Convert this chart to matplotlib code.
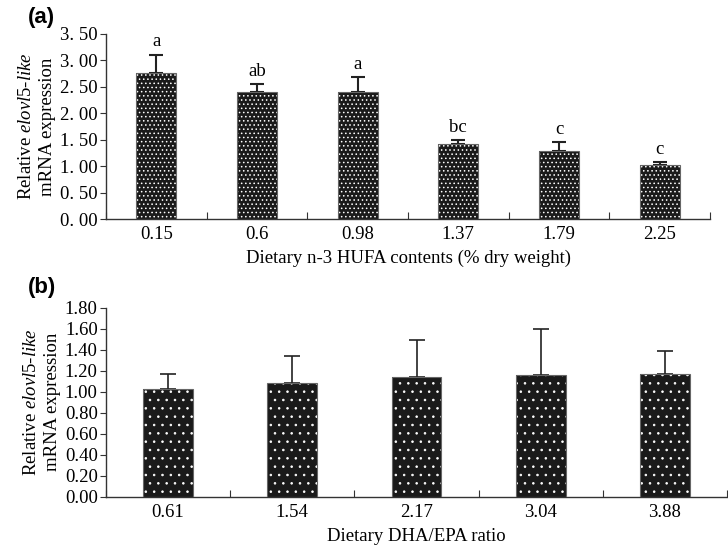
import matplotlib
matplotlib.use("Agg")
import matplotlib.pyplot as plt
import numpy as np

plt.rcParams['font.family'] = ['Liberation Serif', 'DejaVu Serif']
plt.rcParams['mathtext.fontset'] = 'custom'
plt.rcParams['mathtext.rm'] = 'Liberation Serif'
plt.rcParams['mathtext.it'] = 'Liberation Serif:italic'
plt.rcParams['hatch.color'] = 'white'
plt.rcParams['hatch.linewidth'] = 0.6

# ---- data panel (a)
cats_a = ["0.15", "0.6", "0.98", "1.37", "1.79", "2.25"]
vals_a = [2.77, 2.40, 2.40, 1.42, 1.29, 1.03]
err_a = [0.34, 0.16, 0.28, 0.07, 0.17, 0.05]
letters_a = ["a", "ab", "a", "bc", "c", "c"]
yticks_a = [0.0, 0.5, 1.0, 1.5, 2.0, 2.5, 3.0, 3.5]
yticklabels_a = ["0. 00", "0. 50", "1. 00", "1. 50", "2. 00", "2. 50", "3. 00", "3. 50"]
xlabel_a = "Dietary n-3 HUFA contents (% dry weight)"

# ---- data panel (b)
cats_b = ["0.61", "1.54", "2.17", "3.04", "3.88"]
vals_b = [1.026, 1.086, 1.137, 1.156, 1.166]
err_b = [0.145, 0.255, 0.358, 0.445, 0.225]
yticks_b = [0.0, 0.2, 0.4, 0.6, 0.8, 1.0, 1.2, 1.4, 1.6, 1.8]
yticklabels_b = ["0.00", "0.20", "0.40", "0.60", "0.80", "1.00", "1.20", "1.40", "1.60", "1.80"]
xlabel_b = "Dietary DHA/EPA ratio"

ylabel = "Relative $\\mathit{elovl5}$-$\\mathit{like}$\nmRNA expression"

FS = 13.5

fig = plt.figure(figsize=(7.28, 5.48), dpi=100)
W, H = 728, 548

def axes_px(l, r, t, b):
    return fig.add_axes([l / W, 1 - b / H, (r - l) / W, (b - t) / H])

ax_a = axes_px(106, 710, 34, 219)
ax_b = axes_px(106, 727, 307.7, 496.7)

def style(ax, cats, vals, errs, yticks, ytl, xlabel, hatch, capsize, elw, ymax):
    n = len(cats)
    x = np.arange(n)
    ax.bar(x, vals, width=0.4, color='#1a1a1a', edgecolor='white', linewidth=0,
           hatch=hatch, zorder=2)
    ax.bar(x, vals, width=0.4, facecolor='none', edgecolor='#666666', linewidth=0.8,
           zorder=3)
    ax.errorbar(x, vals, yerr=[np.zeros(n), errs], fmt='none', ecolor='#222222',
                elinewidth=elw, capsize=capsize, capthick=elw, zorder=1)
    ax.set_xlim(-0.5, n - 0.5)
    ax.set_ylim(0, ymax)
    for s in ['top', 'right']:
        ax.spines[s].set_visible(False)
    for s in ['left', 'bottom']:
        ax.spines[s].set_color('#333333')
        ax.spines[s].set_linewidth(1.0)
    ax.set_yticks(yticks)
    ax.set_yticklabels(ytl, fontsize=FS)
    ax.tick_params(axis='y', direction='out', length=4, color='#333333', pad=2)
    ax.set_xticks(np.arange(n + 1) - 0.5)
    ax.set_xticklabels([])
    ax.tick_params(axis='x', which='major', direction='in', length=5, color='#333333')
    ax.set_xticks(x, minor=True)
    ax.set_xticklabels(cats, minor=True, fontsize=FS)
    ax.tick_params(axis='x', which='minor', length=0, pad=5)
    ax.set_xlabel(xlabel, fontsize=FS, labelpad=5)
    ax.set_ylabel(ylabel, fontsize=FS, linespacing=1.3, labelpad=3)
    return x

xa = style(ax_a, cats_a, vals_a, err_a, yticks_a, yticklabels_a, xlabel_a,
           '....', 5, 1.5, 3.5)
for xi, v, e, l in zip(xa, vals_a, err_a, letters_a):
    ax_a.annotate(l, (xi, v + e), xytext=(0, 3), textcoords='offset points',
                  ha='center', va='bottom', fontsize=FS)

style(ax_b, cats_b, vals_b, err_b, yticks_b, yticklabels_b, xlabel_b,
      '..', 5.5, 1.2, 1.8)

fig.text(28 / W, 1 - 17 / H, "(a)", fontsize=16, fontweight='bold',
         family='Liberation Sans', va='center', ha='left')
fig.text(28 / W, 1 - 287 / H, "(b)", fontsize=16, fontweight='bold',
         family='Liberation Sans', va='center', ha='left')

fig.savefig("out.png", dpi=100)
